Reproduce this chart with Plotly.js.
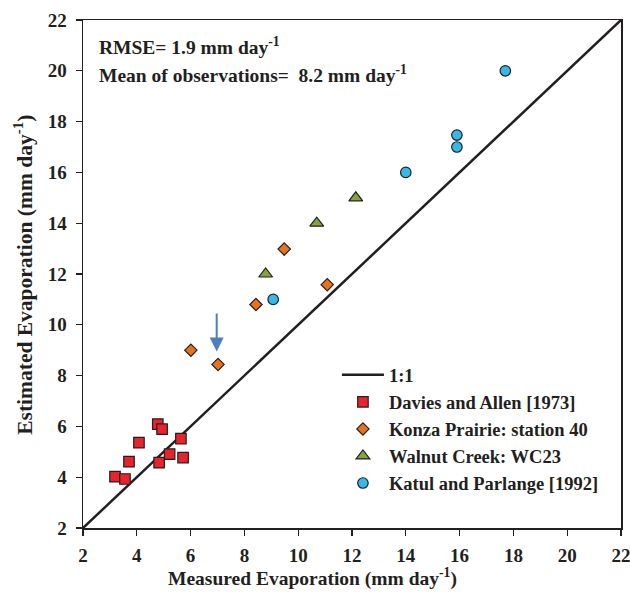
<!DOCTYPE html>
<html>
<head>
<meta charset="utf-8">
<script src="https://cdn.plot.ly/plotly-3.0.1.min.js"></script>
<style>html,body{margin:0;padding:0;background:#fff;}#chart{width:630px;height:598px;}</style>
</head>
<body>
<div id="chart"></div>
<script>
var oneToOneX = [2, 22];
var oneToOneY = [2, 22];

var daviesX = [3.19, 3.56, 3.71, 4.08, 4.78, 4.94, 4.83, 5.22, 5.64, 5.72];
var daviesY = [4.02, 3.93, 4.61, 5.36, 6.09, 5.89, 4.57, 4.91, 5.52, 4.77];

var konzaX = [6.01, 7.02, 8.43, 9.48, 11.08];
var konzaY = [9.0, 8.44, 10.8, 12.98, 11.58];

var walnutX = [8.79, 10.69, 12.14];
var walnutY = [12.0, 14.0, 15.0];

var katulX = [9.07, 14.0, 15.9, 15.9, 17.7];
var katulY = [11.0, 16.0, 17.47, 17.0, 20.0];

var tickVals = [2, 4, 6, 8, 10, 12, 14, 16, 18, 20, 22];

var arrowX = 6.97, arrowTailY = 10.5, arrowHeadY = 8.95;

var serif = "Liberation Serif, Times New Roman, serif";
var ink = '#231f20';
var edge = {color: ink, width: 1.2};

var traces = [
  {x: oneToOneX, y: oneToOneY, mode: 'lines', name: '1:1', line: {color: ink, width: 2.5}, legendgroup: 'a'},
  {x: daviesX, y: daviesY, mode: 'markers', name: 'Davies and Allen [1973]', legendgroup: 'b',
   marker: {symbol: 'square', size: 10.5, color: '#e8232b', line: edge}},
  {x: konzaX, y: konzaY, mode: 'markers', name: 'Konza Prairie: station 40', legendgroup: 'c',
   marker: {symbol: 'diamond', size: 9.5, color: '#e8731f', line: edge}},
  {x: walnutX, y: walnutY, mode: 'markers', name: 'Walnut Creek: WC23', legendgroup: 'd',
   marker: {symbol: 'triangle-up', size: 12, color: '#86a33e', line: edge}},
  {x: katulX, y: katulY, mode: 'markers', name: 'Katul and Parlange [1992]', legendgroup: 'e',
   marker: {symbol: 'circle', size: 10.5, color: '#35b8ea', line: edge}}
];

var axisCommon = {
  range: [2, 22], tickvals: tickVals, ticktext: tickVals.map(String),
  showgrid: false, zeroline: false, showline: true, mirror: true,
  linecolor: ink, linewidth: 1.5, ticks: 'outside', ticklen: 6, tickwidth: 1.3, tickcolor: ink,
  ticklabeloverflow: 'allow',
  tickfont: {family: serif, size: 19, color: ink, weight: 'bold'}
};

var layout = {
  width: 630, height: 598,
  margin: {l: 83, r: 9, t: 20, b: 70},
  paper_bgcolor: '#fff', plot_bgcolor: '#fff',
  showlegend: true,
  xaxis: Object.assign({}, axisCommon, {ticklabelstandoff: 4}),
  yaxis: Object.assign({}, axisCommon, {ticklabelstandoff: 5}),
  legend: {
    x: 0.472, y: 0.338, xanchor: 'left', yanchor: 'top',
    bgcolor: 'rgba(0,0,0,0)', borderwidth: 0, itemwidth: 42,
    font: {family: serif, size: 18.5, color: ink, weight: 'bold'},
    traceorder: 'grouped', tracegroupgap: 0
  },
  annotations: [
    {xref: 'paper', yref: 'paper', x: 0.426, y: -0.098, xanchor: 'center', yanchor: 'middle', showarrow: false,
     text: 'Measured Evaporation (mm day<sup>-1</sup>)', font: {family: serif, size: 19.5, color: ink, weight: 'bold'}},
    {xref: 'paper', yref: 'paper', x: -0.112, y: 0.498, xanchor: 'center', yanchor: 'middle', showarrow: false, textangle: -90,
     text: 'Estimated Evaporation (mm day<sup>-1</sup>)', font: {family: serif, size: 21.5, color: ink, weight: 'bold'}},
    {xref: 'paper', yref: 'paper', x: 0.026, y: 0.949, xanchor: 'left', yanchor: 'middle', showarrow: false,
     text: 'RMSE= 1.9 mm day<sup>-1</sup>', font: {family: serif, size: 19.5, color: ink, weight: 'bold'}},
    {xref: 'paper', yref: 'paper', x: 0.026, y: 0.894, xanchor: 'left', yanchor: 'middle', showarrow: false,
     text: 'Mean of observations=  8.2 mm day<sup>-1</sup>', font: {family: serif, size: 19.5, color: ink, weight: 'bold'}},
    {x: arrowX, y: arrowHeadY, ax: arrowX, ay: arrowTailY, xref: 'x', yref: 'y', axref: 'x', ayref: 'y',
     showarrow: true, arrowhead: 2, arrowsize: 1.4, arrowwidth: 2, arrowcolor: '#4a7fc1', text: ''}
  ]
};

Plotly.newPlot('chart', traces, layout, {displayModeBar: false, staticPlot: true});
</script>
</body>
</html>
